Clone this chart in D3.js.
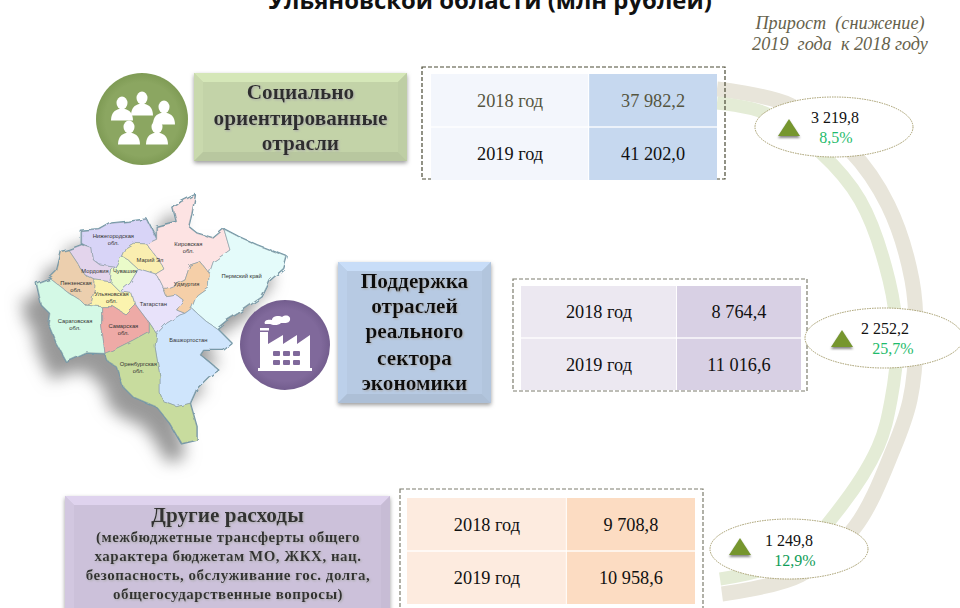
<!DOCTYPE html>
<html lang="ru">
<head>
<meta charset="utf-8">
<script src="https://cdn.jsdelivr.net/npm/d3@7"></script>
<style>
html, body { margin: 0; background: #fff; overflow: hidden; }
text { font-family: "Liberation Serif", serif; }
</style>
</head>
<body>
<svg id="chart" width="960" height="608"></svg>
<script>
// values
const titleText = "Ульяновской области (млн рублей)";
const growthHeader = ["Прирост  (снижение)", "2019  года  к 2018 году"];
const years = ["2018 год", "2019 год"];
const values2018 = ["37 982,2", "8 764,4", "9 708,8"];
const values2019 = ["41 202,0", "11 016,6", "10 958,6"];
const growthAbs = ["3 219,8", "2 252,2", "1 249,8"];
const growthPct = ["8,5%", "25,7%", "12,9%"];
const sectorLabels = [
    ["Социально", "ориентированные", "отрасли"],
    ["Поддержка", "отраслей", "реального", "сектора", "экономики"],
    ["Другие расходы"]
];
const otherNote = [
    "(межбюджетные трансферты общего",
    "характера бюджетам МО, ЖКХ, нац.",
    "безопасность, обслуживание гос. долга,",
    "общегосударственные вопросы)"
];

// map regions, outlines in map units
const regionNames = ["Нижегородская обл.", "Мордовия", "Пензенская обл.", "Саратовская обл.", "Ульяновская обл.",
    "Чувашия", "Марий Эл", "Татарстан", "Кировская обл.", "Удмуртия", "Пермский край", "Башкортостан",
    "Самарская обл.", "Оренбургская обл."];
const regionColors = ["#d8d4f7", "#e3d4ec", "#eccfae", "#d4f9e6", "#fbf3ae", "#eafbc9", "#faeeb0", "#e8e2fa",
    "#fde3e3", "#f5cfa8", "#e4fbfa", "#cfe5fc", "#eeaaa6", "#c8dc9e"];
const regionOutlines = [
    [[245,155],[300,150],[335,130],[385,125],[440,118],[470,178],[440,192],[400,190],[375,205],[365,228],[345,262],[300,255],[280,240],[275,205],[245,190]],
    [[205,210],[245,195],[275,205],[280,240],[300,255],[345,262],[335,270],[330,305],[285,300],[255,285],[235,255]],
    [[185,215],[205,210],[235,255],[255,285],[285,300],[285,320],[275,365],[255,375],[240,360],[205,338],[150,295],[170,275]],
    [[150,295],[110,310],[118,345],[125,375],[150,400],[145,430],[170,490],[200,545],[260,518],[315,520],[305,440],[305,380],[255,375],[240,360],[205,338]],
    [[285,300],[330,305],[360,335],[395,340],[405,372],[375,402],[340,380],[305,380],[255,375],[275,365],[285,320]],
    [[365,228],[385,240],[415,268],[390,310],[360,335],[330,305],[335,270],[345,262]],
    [[375,205],[400,190],[440,192],[465,225],[495,270],[470,285],[415,268],[385,240],[365,228]],
    [[415,268],[470,285],[490,325],[500,350],[530,345],[550,360],[530,390],[555,400],[540,405],[500,430],[470,462],[445,425],[405,372],[395,340],[360,335],[390,310]],
    [[470,178],[470,140],[530,125],[520,85],[545,65],[585,45],[575,100],[565,140],[590,160],[640,175],[672,148],[690,210],[640,245],[628,280],[600,245],[570,255],[555,300],[525,315],[500,325],[490,325],[470,285],[495,270],[465,225],[440,192]],
    [[500,325],[525,315],[555,300],[570,255],[600,245],[628,280],[625,320],[590,345],[575,385],[555,400],[530,390],[550,360],[530,345],[500,350],[490,325]],
    [[672,148],[715,170],[770,195],[860,230],[850,265],[810,300],[785,350],[720,395],[680,420],[650,445],[620,425],[575,385],[590,345],[625,320],[628,280],[640,245],[690,210]],
    [[555,400],[575,385],[620,425],[650,445],[695,490],[670,510],[610,510],[600,525],[625,545],[655,570],[625,590],[590,625],[570,670],[530,680],[490,665],[480,640],[480,590],[465,500],[470,462],[500,430],[540,405]],
    [[305,380],[340,380],[375,402],[405,372],[445,425],[445,455],[400,480],[350,505],[315,520],[305,440]],
    [[315,520],[350,505],[400,480],[445,455],[445,425],[470,462],[465,500],[480,590],[480,640],[490,665],[530,680],[570,670],[590,740],[590,780],[545,790],[510,730],[470,680],[400,650],[370,620],[350,560],[325,545]]
];
const regionLabelAt = [[340,175],[285,278],[228,315],[225,428],[335,348],[375,278],[450,245],[460,378],[565,198],[560,318],[725,295],[565,485],[370,445],[415,558]];

// the two ribbons that link the three blocks
const ribbonBeige = [[717,89],[790,105],[850,150],[888,205],[912,280],[916,340],[910,400],[893,450],[855,527],[800,575],[722,594]];
const ribbonGreen = [[717,103],[765,113],[820,152],[860,200],[889,280],[897,340],[891,400],[878,447],[836,513],[790,560],[720,579]];

const blocks = [
    { box: [422, 67, 303, 112], cells: [431, 74, 286, 106], split: 0.553, left: "#f3f6fc", right: "#c6d8ef", firstText: "#55553f", border: "#4a4a35" },
    { box: [513, 279, 294, 112], cells: [521, 286, 280, 104], split: 0.557, left: "#ece8f1", right: "#d8d0e4", firstText: "#111", border: "#7d7d6e" },
    { box: [400, 489, 303, 125], cells: [407, 498, 288, 106], split: 0.555, left: "#fdebdf", right: "#fcdcc2", firstText: "#111", border: "#7d7d6e" }
];
const bubbles = [
    { cx: 834, cy: 127, tri: 789, triY: 119, num: 835, pct: 836, numY: 123, pctColor: "#1fbb6c" },
    { cx: 884, cy: 338, tri: 842, triY: 330, num: 885, pct: 893, numY: 334, pctColor: "#1fbb6c" },
    { cx: 789, cy: 549, tri: 740, triY: 538, num: 789, pct: 795, numY: 546, pctColor: "#0f9d58" }
];
const plates = [
    { x: 194, y: 73, w: 213, h: 88, fill: "#c3d3a8", color: "#2f2f2f", lines: [99, 125, 150] },
    { x: 338, y: 262, w: 153, h: 141, fill: "#b7cae3", color: "#0c0c0c", lines: [288, 313, 338, 365, 390] },
    { x: 65, y: 496, w: 325, h: 122, fill: "#ccc1da", color: "#333", lines: [522] }
];
const people = [[122, 103], [142, 98], [164, 107], [129, 127], [157, 127]];

const svg = d3.select("#chart");
const defs = svg.append("defs");

// soft shadows
function addShadow(id, dx, dy, blur, color) {
    defs.append("filter").attr("id", id)
        .attr("x", "-30%").attr("y", "-30%").attr("width", "160%").attr("height", "160%")
        .append("feDropShadow")
        .attr("dx", dx).attr("dy", dy).attr("stdDeviation", blur)
        .attr("flood-color", color);
}
addShadow("plateShadow", 0, 2, 2, "#999");
addShadow("triShadow", 0, 2, 1, "#888");
addShadow("mapShadow", -14, 18, 8, "#999");
addShadow("textShadow", 1, 1, 1, "#aaa");

// rough coast look for the map outlines
const softMap = defs.append("filter").attr("id", "softMap")
    .attr("x", "-5%").attr("y", "-5%").attr("width", "110%").attr("height", "110%");
softMap.append("feTurbulence").attr("type", "fractalNoise").attr("baseFrequency", 0.09)
    .attr("numOctaves", 2).attr("seed", 3).attr("result", "noise");
softMap.append("feDisplacementMap").attr("in", "SourceGraphic").attr("in2", "noise")
    .attr("scale", 5).attr("result", "rough");
softMap.append("feGaussianBlur").attr("in", "rough").attr("stdDeviation", 0.45);

// TITLE
svg.append("text")
    .attr("x", 490).attr("y", 9)
    .attr("text-anchor", "middle")
    .style("font-family", "'Open Sans', sans-serif")
    .style("font-weight", 700).style("font-size", "23.9px")
    .attr("fill", "#111")
    .text(titleText);

svg.selectAll(".growthHeader").data(growthHeader).enter().append("text")
    .attr("class", "growthHeader")
    .attr("x", 840).attr("y", (d, i) => 29 + i * 21)
    .attr("text-anchor", "middle")
    .style("font-style", "italic").style("font-size", "18.2px").style("white-space", "pre")
    .attr("fill", "#66624c")
    .text(d => d);

// RIBBONS
const ribbonLine = d3.line().curve(d3.curveCatmullRom.alpha(0.5));
svg.append("path").attr("d", ribbonLine(ribbonBeige))
    .attr("fill", "none").attr("stroke", "#e8e5da").attr("stroke-width", 15);
svg.append("path").attr("d", ribbonLine(ribbonGreen))
    .attr("fill", "none").attr("stroke", "#e4ecd6").attr("stroke-width", 13);

// MAP
const mapX = d3.scaleLinear().domain([0, 1020]).range([0, 340]);
const mapY = d3.scaleLinear().domain([0, 870]).range([180, 470]);
const regionLine = d3.line().x(d => mapX(d[0])).y(d => mapY(d[1])).curve(d3.curveLinearClosed);

const mapG = svg.append("g").attr("filter", "url(#mapShadow)").append("g").attr("filter", "url(#softMap)");
// thick teal coast first, then the fills and thin inner borders
mapG.append("g").selectAll("path").data(regionOutlines).enter().append("path")
    .attr("d", regionLine)
    .attr("fill", "#6f98a8")
    .attr("stroke", "#6f98a8").attr("stroke-width", 2.2).attr("stroke-linejoin", "round");
mapG.append("g").selectAll("path").data(regionOutlines).enter().append("path")
    .attr("d", regionLine)
    .attr("fill", (d, i) => regionColors[i])
    .attr("stroke", "#8c9ca4").attr("stroke-width", 0.6).attr("stroke-linejoin", "round");

svg.append("g").selectAll("text").data(regionNames).enter().append("text")
    .attr("x", (d, i) => mapX(regionLabelAt[i][0]))
    .attr("y", (d, i) => mapY(regionLabelAt[i][1]))
    .attr("text-anchor", "middle")
    .style("font-family", "'Liberation Sans', sans-serif")
    .style("font-size", "5.8px")
    .attr("fill", "#333")
    .each(function (d) {
        // "обл." goes on its own line
        const parts = d.endsWith(" обл.") ? d.split(" ") : [d];
        const node = d3.select(this);
        const x = node.attr("x");
        parts.forEach((p, j) => node.append("tspan").attr("x", x).attr("dy", j ? 7 : 0).text(p));
    });

// ICON CIRCLES
defs.append("radialGradient").attr("id", "greenDisc")
    .selectAll("stop").data([[0.8, "#8ba661"], [1, "#7f9b55"]]).enter().append("stop")
    .attr("offset", d => d[0]).attr("stop-color", d => d[1]);
defs.append("radialGradient").attr("id", "purpleDisc")
    .selectAll("stop").data([[0.8, "#80699b"], [1, "#735d8e"]]).enter().append("stop")
    .attr("offset", d => d[0]).attr("stop-color", d => d[1]);

svg.append("circle").attr("cx", 142).attr("cy", 119).attr("r", 46).attr("fill", "url(#greenDisc)");
svg.append("circle").attr("cx", 285).attr("cy", 345).attr("r", 45).attr("fill", "url(#purpleDisc)");

// people icon: head and shoulders
const peopleG = svg.append("g").attr("fill", "#fff");
people.forEach(p => {
    const g = peopleG.append("g").attr("transform", "translate(" + p[0] + "," + p[1] + ")");
    g.append("ellipse").attr("rx", 5.5).attr("ry", 6.5);
    g.append("path").attr("d", "M-11,17.5 C-11,10 -7,7 -3,6 L3,6 C7,7 11,10 11,17.5 Z");
});

// factory icon
const factory = svg.append("g").attr("fill", "#fff");
factory.append("path").attr("d",
    "M258,368 L260,368 L260,332 L268,332 L268,344 L283,335 L283,344 L297,335 L297,344 L310,335 L310,368 L312,368 L312,371 L258,371 Z");
factory.append("rect").attr("x", 260).attr("y", 328).attr("width", 9).attr("height", 2.5);
factory.append("path").attr("d",
    "M265,324 C263,320 269,319 272,320 C272,316 279,315 282,317 C286,314 291,316 290,320 C289,324 283,323 281,323 C278,326 272,325 270,324 Z");
const windowsG = svg.append("g").attr("fill", "#80699b");
d3.cross([273, 283, 293], [351, 360]).forEach(w => {
    windowsG.append("rect").attr("x", w[0]).attr("y", w[1]).attr("width", 7).attr("height", 5).attr("rx", 1);
});

// LABEL PLATES
plates.forEach((p, i) => {
    const g = svg.append("g");
    const b = 9, x0 = p.x, y0 = p.y, x1 = p.x + p.w, y1 = p.y + p.h;
    g.append("rect").attr("x", x0).attr("y", y0).attr("width", p.w).attr("height", p.h)
        .attr("fill", p.fill).attr("filter", "url(#plateShadow)");
    const c = d3.color(p.fill);
    const bevels = [
        [[x0, y0], [x1, y0], [x1 - b, y0 + b], [x0 + b, y0 + b], c.brighter(0.25)],
        [[x0, y0], [x0 + b, y0 + b], [x0 + b, y1 - b], [x0, y1], c.brighter(0.08)],
        [[x1, y0], [x1, y1], [x1 - b, y1 - b], [x1 - b, y0 + b], c.darker(0.07)],
        [[x0, y1], [x0 + b, y1 - b], [x1 - b, y1 - b], [x1, y1], c.darker(0.16)]
    ];
    g.selectAll("polygon").data(bevels).enter().append("polygon")
        .attr("points", d => d.slice(0, 4).map(q => q.join(",")).join(" "))
        .attr("fill", d => d[4]);
    g.selectAll("text").data(sectorLabels[i]).enter().append("text")
        .attr("x", x0 + p.w / 2).attr("y", (d, j) => p.lines[j])
        .attr("text-anchor", "middle")
        .style("font-weight", 700).style("font-size", "21.3px")
        .attr("fill", p.color).attr("filter", "url(#textShadow)")
        .text(d => d);
});

svg.append("g").selectAll("text").data(otherNote).enter().append("text")
    .attr("x", 228).attr("y", (d, i) => 542 + i * 19)
    .attr("text-anchor", "middle")
    .style("font-weight", 700).style("font-size", "15px").style("letter-spacing", "0.5px")
    .attr("fill", "#333").attr("filter", "url(#textShadow)")
    .text(d => d);

// TABLES
blocks.forEach((bl, i) => {
    const g = svg.append("g");
    g.append("rect")
        .attr("x", bl.box[0]).attr("y", bl.box[1]).attr("width", bl.box[2]).attr("height", bl.box[3])
        .attr("fill", "none").attr("stroke", bl.border).attr("stroke-width", 1.2).attr("stroke-dasharray", "4,2");

    const [cx, cy, cw, ch] = bl.cells;
    const rowScale = d3.scaleBand().domain(years).range([cy, cy + ch]).paddingInner(0.025);
    const leftW = cw * bl.split;
    const row = g.selectAll(".row").data(years).enter().append("g")
        .attr("transform", d => "translate(0," + rowScale(d) + ")");
    row.append("rect").attr("x", cx).attr("width", leftW - 1).attr("height", rowScale.bandwidth())
        .attr("fill", bl.left);
    row.append("rect").attr("x", cx + leftW).attr("width", cw - leftW).attr("height", rowScale.bandwidth())
        .attr("fill", bl.right);
    row.append("text").attr("x", cx + leftW / 2).attr("y", rowScale.bandwidth() / 2 + 6.5)
        .attr("text-anchor", "middle").style("font-size", "18.3px")
        .attr("fill", (d, j) => j ? "#111" : bl.firstText)
        .text(d => d);
    row.append("text").attr("x", cx + leftW + (cw - leftW) / 2).attr("y", rowScale.bandwidth() / 2 + 6.5)
        .attr("text-anchor", "middle").style("font-size", "18.3px")
        .attr("fill", (d, j) => j ? "#111" : bl.firstText)
        .text((d, j) => (j ? values2019 : values2018)[i]);
});

// BUBBLES
bubbles.forEach((b, i) => {
    const g = svg.append("g");
    g.append("ellipse").attr("cx", b.cx).attr("cy", b.cy).attr("rx", 79).attr("ry", 30)
        .attr("fill", "#fff").attr("stroke", "#a39a68").attr("stroke-width", 1).attr("stroke-dasharray", "1.5,1");
    g.append("polygon")
        .attr("points", [[b.tri, b.triY], [b.tri + 11, b.triY + 17], [b.tri - 11, b.triY + 17]].map(q => q.join(",")).join(" "))
        .attr("fill", "#76962f").attr("filter", "url(#triShadow)");
    g.append("text").attr("x", b.num).attr("y", b.numY).attr("text-anchor", "middle")
        .style("font-size", "16px").attr("fill", "#111").text(growthAbs[i]);
    g.append("text").attr("x", b.pct).attr("y", b.numY + 19.5).attr("text-anchor", "middle")
        .style("font-size", "16px").attr("fill", b.pctColor).text(growthPct[i]);
});
</script>
</body>
</html>
